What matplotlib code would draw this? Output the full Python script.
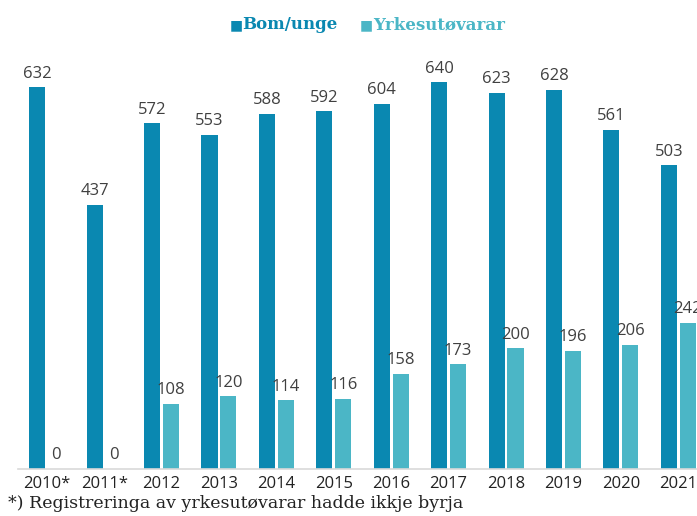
import matplotlib.pyplot as plt
import numpy as np

years = ["2010*", "2011*", "2012", "2013", "2014", "2015", "2016",
         "2017", "2018", "2019", "2020", "2021"]
bom_unge = [632, 437, 572, 553, 588, 592, 604, 640, 623, 628, 561, 503]
yrkesutovarar = [0, 0, 108, 120, 114, 116, 158, 173, 200, 196, 206, 242]

blue = "#0a88b1"
cyan = "#4bb6c6"
label_col = "#404040"

fig = plt.figure(figsize=(6.97, 5.16), dpi=100)
ax = fig.add_axes([18 / 697, 47 / 516, 689 / 697, 429 / 516])

x = np.arange(len(years))
w = 0.28
off = 0.165
b1 = ax.bar(x - off, bom_unge, w, color=blue)
b2 = ax.bar(x + off, yrkesutovarar, w, color=cyan)

for bars, vals in ((b1, bom_unge), (b2, yrkesutovarar)):
    for r, v in zip(bars, vals):
        ax.annotate(str(v), (r.get_x() + r.get_width() / 2, v),
                    xytext=(0, 4), textcoords="offset points",
                    ha="center", va="bottom", fontsize=12,
                    family=["Open Sans", "DejaVu Sans"], color=label_col)

ax.set_xlim(-0.5, 11.5)
ax.set_ylim(0, 710)
ax.set_xticks(x)
ax.set_xticklabels(years, fontsize=12, color="#222222",
                   family=["Open Sans", "DejaVu Sans"])
ax.tick_params(axis="x", length=0, pad=5)
ax.set_yticks([])
for s in ["top", "right", "left"]:
    ax.spines[s].set_visible(False)
ax.spines["bottom"].set_color("#d9d9d9")
ax.spines["bottom"].set_linewidth(1.2)

# legend drawn as coloured squares + coloured bold text
fig.text(230 / 697, 1 - 29 / 516, "\u25a0", color=blue, fontsize=10,
         ha="left", va="baseline")
fig.text(242 / 697, 1 - 29 / 516, "Bom/unge", color=blue, fontsize=12,
         fontweight="bold", family="DejaVu Serif", ha="left", va="baseline")
fig.text(360 / 697, 1 - 29 / 516, "\u25a0", color=cyan, fontsize=10,
         ha="left", va="baseline")
fig.text(373 / 697, 1 - 29 / 516, "Yrkesut\u00f8varar", color=cyan, fontsize=12,
         fontweight="bold", family="DejaVu Serif", ha="left", va="baseline")

fig.text(8 / 697, 1 - 508 / 516, "*) Registreringa av yrkesut\u00f8varar hadde ikkje byrja",
         fontsize=12.5, family="DejaVu Serif", color="#222222",
         ha="left", va="baseline")

fig.savefig("out.png", dpi=100)
